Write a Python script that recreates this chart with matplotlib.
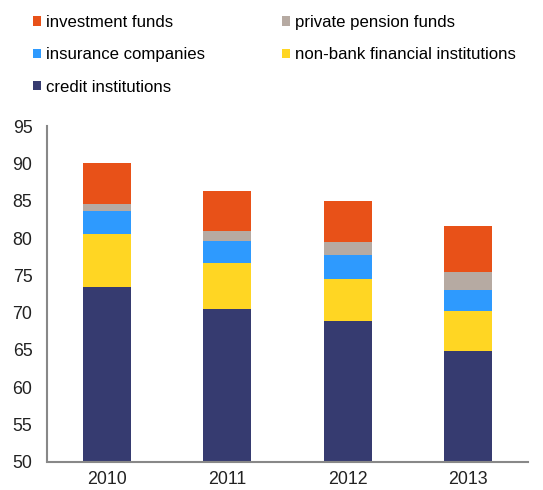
import numpy as np
import matplotlib.pyplot as plt
from matplotlib.patches import Patch

plt.rcParams['font.family'] = ['Liberation Sans', 'DejaVu Sans']

anos = ['2010', '2011', '2012', '2013']
credit = [73.5, 70.45, 68.9, 64.9]
nonbank = [7.0, 6.15, 5.6, 5.3]
insurance = [3.15, 3.0, 3.2, 2.8]
pension = [0.95, 1.35, 1.8, 2.5]
investment = [5.55, 5.35, 5.45, 6.1]

series = [
    ('credit institutions', credit, '#363B70'),
    ('non-bank financial institutions', nonbank, '#FFD623'),
    ('insurance companies', insurance, '#2E9AFE'),
    ('private pension funds', pension, '#B6AAA2'),
    ('investment funds', investment, '#E85118'),
]

fig = plt.figure(figsize=(5.43, 4.9), dpi=100)
ax = fig.add_axes([47 / 543, 1 - 461.5 / 490, 481 / 543, 335 / 490])

x = np.arange(len(anos))
base = np.zeros(len(anos))
handles = {}
for nome, vals, cor in series:
    ax.bar(x, vals, 0.4, bottom=base, color=cor)
    base = base + np.array(vals)
    handles[nome] = Patch(facecolor=cor)

ax.set_ylim(50, 95)
ax.set_xlim(-0.5, len(anos) - 0.5)
ax.set_yticks(range(50, 96, 5))
ax.set_xticks(x)
ax.set_xticklabels(anos)
ax.tick_params(length=0, labelsize=12.8, colors='#222222')
ax.tick_params(axis='y', pad=10.5)
ax.tick_params(axis='x', pad=7)
for lado in ['top', 'right']:
    ax.spines[lado].set_visible(False)
for lado in ['left', 'bottom']:
    ax.spines[lado].set_color('#888888')
    ax.spines[lado].set_linewidth(1.5)

ordem = ['investment funds', 'insurance companies', 'credit institutions',
         'private pension funds', 'non-bank financial institutions']
fig.legend([handles[n] for n in ordem], ordem, ncol=2, loc='upper left',
           bbox_to_anchor=(33 / 543, 1 - 15 / 490), frameon=False,
           fontsize=12.1, handlelength=0.5, handleheight=0.5,
           handletextpad=0.25, labelspacing=1.03, columnspacing=4.6,
           borderaxespad=0, borderpad=0)

fig.savefig('out.png', dpi=100)
